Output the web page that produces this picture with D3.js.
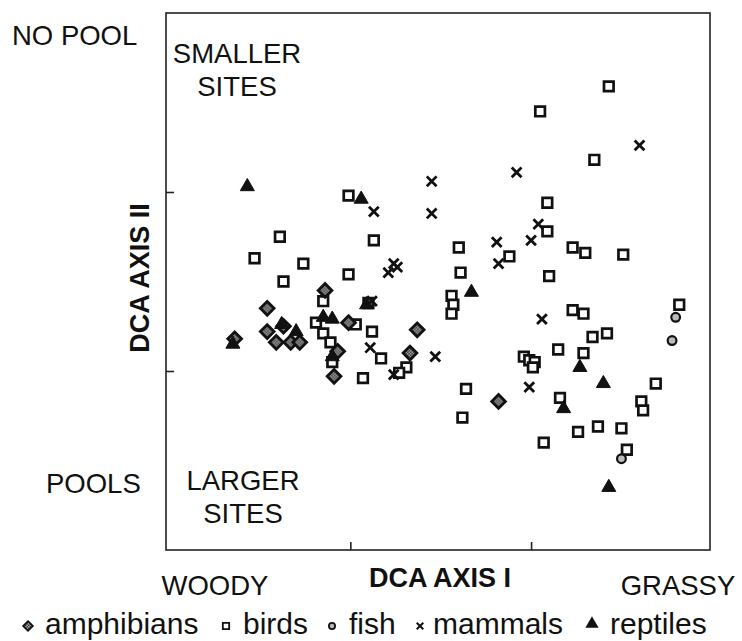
<!DOCTYPE html>
<html>
<head>
<meta charset="utf-8">
<script src="https://cdn.jsdelivr.net/npm/d3@7"></script>
<style>
  body { margin: 0; background: #fff; }
  text { font-family: "Liberation Sans", Arial, sans-serif; fill: #111; }
</style>
</head>
<body>
<div id="main"></div>
<script>
const ctx = {
    w: 742,
    h: 641,
};

// DCA scores, [axis I, axis II]
const amphibians = [
  [0.36, 1.18], [0.54, 1.35], [0.86, 1.45], [0.54, 1.22], [0.63, 1.25],
  [0.59, 1.16], [0.67, 1.16], [0.72, 1.16], [0.99, 1.27], [0.93, 1.11],
  [0.91, 0.97], [1.37, 1.23], [1.33, 1.10], [1.82, 0.83]
];
const birds = [
  [0.99, 1.98], [0.61, 1.75], [1.13, 1.73], [0.47, 1.63], [0.74, 1.60],
  [0.99, 1.54], [0.63, 1.50], [0.85, 1.39], [0.81, 1.27], [0.85, 1.21],
  [0.89, 1.16], [0.90, 1.05], [1.03, 1.26], [1.12, 1.22], [1.17, 1.07],
  [1.07, 0.96], [1.31, 1.02], [1.27, 0.99], [1.10, 1.38], [1.56, 1.42],
  [1.57, 1.37], [1.56, 1.32], [2.43, 2.59], [2.05, 2.45], [2.35, 2.18],
  [2.09, 1.94], [2.09, 1.78], [1.60, 1.69], [1.88, 1.64], [2.23, 1.69],
  [2.30, 1.66], [2.51, 1.65], [1.61, 1.55], [2.10, 1.53], [2.23, 1.34],
  [2.29, 1.32], [2.82, 1.37], [2.34, 1.19], [2.42, 1.21], [2.15, 1.12],
  [2.29, 1.10], [1.96, 1.08], [1.99, 1.06], [2.02, 1.05], [2.01, 1.02],
  [1.64, 0.90], [2.69, 0.93], [2.16, 0.85], [2.61, 0.83], [2.62, 0.78],
  [1.62, 0.74], [2.07, 0.60], [2.26, 0.66], [2.37, 0.69], [2.50, 0.68],
  [2.53, 0.56]
];
const fish = [
  [2.80, 1.30], [2.78, 1.17], [2.50, 0.51]
];
const mammals = [
  [1.13, 1.89], [1.45, 2.06], [1.45, 1.88], [1.92, 2.11], [2.60, 2.26],
  [2.04, 1.82], [1.81, 1.72], [2.00, 1.73], [1.82, 1.60], [2.06, 1.29],
  [1.99, 0.91], [1.24, 1.60], [1.26, 1.58], [1.21, 1.55], [1.12, 1.39],
  [1.11, 1.13], [1.47, 1.08], [1.24, 0.98]
];
const reptiles = [
  [0.43, 2.03], [1.06, 1.96], [1.67, 1.44], [2.27, 1.02], [2.40, 0.93],
  [2.18, 0.79], [2.43, 0.35], [0.35, 1.15], [0.62, 1.26], [0.70, 1.22],
  [0.85, 1.30], [0.90, 1.29], [0.90, 1.08], [1.09, 1.37]
];

const xTicks = [1, 2];
const yTicks = [1, 2];
const legendNames = ["amphibians", "birds", "fish", "mammals", "reptiles"];

const box = { left: 166, right: 710, top: 13, bottom: 550 };

// one look per group
const styles = {
  birds:      { type: d3.symbolSquare,   size: 92,  fill: "#fff",  stroke: "#111", sw: 2.7 },
  fish:       { type: d3.symbolCircle,   size: 60,  fill: "#bbb",  stroke: "#111", sw: 2.2 },
  mammals:    { type: d3.symbolTimes,    size: 64,  fill: "none",  stroke: "#111", sw: 2.8 },
  amphibians: { type: d3.symbolDiamond2, size: 120, fill: "url(#checker)", stroke: "#111", sw: 2.8 },
  reptiles:   { type: d3.symbolTriangle, size: 85,  fill: "#111",  stroke: "#111", sw: 1 },
};

function drawGroup(svg, name, data, x, y) {
  let s = styles[name];
  svg.append("g").attr("class", name)
     .selectAll("path")
     .data(data)
     .enter().append("path")
     .attr("transform", d => `translate(${x(d[0])},${y(d[1])})`)
     .attr("d", d3.symbol().type(s.type).size(s.size))
     .style("fill", s.fill)
     .style("stroke", s.stroke)
     .style("stroke-width", s.sw);
}

function createChart(svg) {
  let x = d3.scaleLinear().domain([-0.02, 2.99]).range([box.left, box.right]);
  let y = d3.scaleLinear().domain([0, 3]).range([box.bottom, box.top]);

  // checker fill for the amphibian diamonds
  let pat = svg.append("defs").append("pattern")
     .attr("id", "checker").attr("patternUnits", "userSpaceOnUse")
     .attr("width", 3).attr("height", 3);
  pat.append("rect").attr("width", 3).attr("height", 3).style("fill", "#3a3a3a");
  pat.append("rect").attr("width", 1.5).attr("height", 1.5).style("fill", "#a8a8a8");
  pat.append("rect").attr("x", 1.5).attr("y", 1.5).attr("width", 1.5).attr("height", 1.5).style("fill", "#a8a8a8");

  // frame
  svg.append("rect")
     .attr("x", box.left).attr("y", box.top)
     .attr("width", box.right - box.left).attr("height", box.bottom - box.top)
     .style("fill", "none").style("stroke", "#222").style("stroke-width", 1.6);

  let xAxis = d3.axisBottom(x).tickValues(xTicks).tickSizeInner(-8).tickSizeOuter(0).tickFormat("");
  let yAxis = d3.axisLeft(y).tickValues(yTicks).tickSizeInner(-8).tickSizeOuter(0).tickFormat("");
  let gx = svg.append("g").attr("transform", `translate(0,${box.bottom})`).call(xAxis);
  let gy = svg.append("g").attr("transform", `translate(${box.left},0)`).call(yAxis);
  [gx, gy].forEach(g => {
    g.select(".domain").remove();
    g.selectAll("line").style("stroke", "#222").style("stroke-width", 1.6);
  });

  drawGroup(svg, "birds", birds, x, y);
  drawGroup(svg, "fish", fish, x, y);
  drawGroup(svg, "mammals", mammals, x, y);
  drawGroup(svg, "amphibians", amphibians, x, y);
  drawGroup(svg, "reptiles", reptiles, x, y);

  // corner notes
  let label = (t, px, py, anchor, size, weight) => svg.append("text")
     .attr("x", px).attr("y", py)
     .attr("text-anchor", anchor || "start")
     .style("font-size", (size || 27.5) + "px")
     .style("font-weight", weight || "normal")
     .text(t);

  label("NO POOL", 12, 45);
  label("SMALLER", 237, 63, "middle");
  label("SITES", 237, 96, "middle");
  label("POOLS", 46, 493);
  label("LARGER", 243, 490, "middle");
  label("SITES", 243, 523, "middle");
  label("WOODY", 215, 595, "middle");
  label("GRASSY", 678, 595, "middle");
  label("DCA AXIS I", 440, 587, "middle", 27, "bold");

  svg.append("text")
     .attr("transform", "translate(149,278) rotate(-90)")
     .attr("text-anchor", "middle")
     .style("font-size", "27px").style("font-weight", "bold")
     .text("DCA AXIS II");

  // legend row
  let legendX = [[28, 45], [226, 243], [332, 349], [420, 433], [592, 610]];
  let legendSize = { amphibians: 60, birds: 40, fish: 30, mammals: 30, reptiles: 45 };
  let lg = svg.append("g").attr("class", "legend");
  legendNames.forEach((n, i) => {
    let s = styles[n];
    lg.append("path")
      .attr("transform", `translate(${legendX[i][0]},${n === "reptiles" ? 624 : 626})`)
      .attr("d", d3.symbol().type(s.type).size(legendSize[n]))
      .style("fill", s.fill).style("stroke", s.stroke)
      .style("stroke-width", n === "mammals" ? 2 : 1.8);
    lg.append("text")
      .attr("x", legendX[i][1]).attr("y", 634)
      .style("font-size", "30px")
      .text(n);
  });
}

function createViz() {
  let svgEl = d3.select("#main").append("svg");
  svgEl.attr("width", ctx.w);
  svgEl.attr("height", ctx.h);
  createChart(svgEl);
}

createViz();
</script>
</body>
</html>
